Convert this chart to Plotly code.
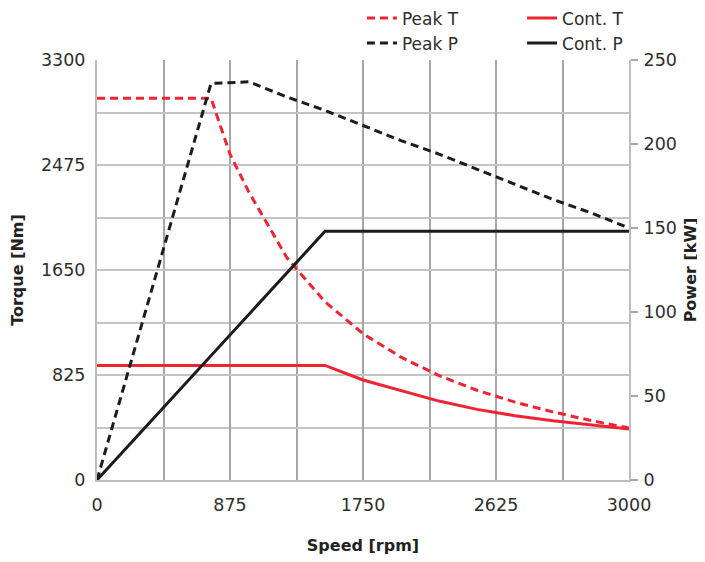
import plotly.graph_objects as go

# Data
rpm_peak_t = [0, 750, 875, 1000, 1250, 1500, 1750, 2000, 2250, 2500, 2750, 3000, 3250, 3500]
peak_t = [3000, 3000, 2560, 2260, 1745, 1400, 1150, 965, 820, 705, 612, 535, 467, 408]

rpm_peak_p = [0, 750, 1000, 1250, 1500, 1750, 2000, 2250, 2500, 2750, 3000, 3250, 3500]
peak_p = [0, 236, 237, 228, 220, 211, 202, 194, 185, 176, 167, 159, 150]

rpm_cont_t = [0, 1500, 1750, 2000, 2250, 2500, 2750, 3000, 3250, 3500]
cont_t = [900, 900, 786, 700, 620, 555, 505, 465, 430, 400]

rpm_cont_p = [0, 1500, 3500]
cont_p = [0, 148, 148]

x_tickvals = [0, 875, 1750, 2625, 3500]
x_ticktext = ["0", "875", "1750", "2625", "3000"]
y_tickvals = [0, 825, 1650, 2475, 3300]
y2_tickvals = [0, 50, 100, 150, 200, 250]

RED = "#ee2433"
BLACK = "#1c1c1c"
FONT = "DejaVu Sans"
TXT = "#2e2e2e"

fig = go.Figure()
fig.add_trace(go.Scatter(x=rpm_peak_t, y=peak_t, name="Peak T", mode="lines",
                         line=dict(color=RED, width=3, dash="8px,5px"), legend="legend"))
fig.add_trace(go.Scatter(x=rpm_peak_p, y=peak_p, name="Peak P", mode="lines", yaxis="y2",
                         line=dict(color=BLACK, width=3, dash="8px,5px"), legend="legend"))
fig.add_trace(go.Scatter(x=rpm_cont_t, y=cont_t, name="Cont. T", mode="lines",
                         line=dict(color=RED, width=3), legend="legend2"))
fig.add_trace(go.Scatter(x=rpm_cont_p, y=cont_p, name="Cont. P", mode="lines", yaxis="y2",
                         line=dict(color=BLACK, width=3), legend="legend2"))

title_font = dict(family="DejaVu Sans", size=16, color="#222222", weight="bold")

fig.update_layout(
    width=697, height=554,
    margin=dict(l=89, r=76, t=52, b=82, autoexpand=False),
    plot_bgcolor="white", paper_bgcolor="white",
    font=dict(family=FONT, size=17.5, color=TXT),
    xaxis=dict(
        range=[0, 3500], tickvals=x_tickvals, ticktext=x_ticktext,
        showgrid=True, gridcolor="#a6a6a6", gridwidth=1.5,
        minor=dict(dtick=437.5, tick0=0, showgrid=True, gridcolor="#a6a6a6", gridwidth=1.5),
        showline=True, linecolor="#bdbdbd", linewidth=2,
        zeroline=False, ticks="", ticklabelstandoff=8,
        title=dict(text="Speed [rpm]", font=title_font, standoff=26),
    ),
    yaxis=dict(
        range=[0, 3300], tickvals=y_tickvals,
        showgrid=True, gridcolor="#c4c4c4", gridwidth=2,
        minor=dict(dtick=412.5, tick0=0, showgrid=True, gridcolor="#c4c4c4", gridwidth=2),
        showline=True, linecolor="#bdbdbd", linewidth=2,
        zeroline=False, ticks="", ticklabelstandoff=6,
        title=dict(text="Torque [Nm]", font=title_font, standoff=14),
    ),
    yaxis2=dict(
        range=[0, 250], tickvals=y2_tickvals, overlaying="y", side="right",
        showgrid=False, zeroline=False,
        showline=True, linecolor="#bdbdbd", linewidth=2,
        ticks="outside", ticklen=7, tickwidth=2, tickcolor="#a6a6a6",
        ticklabelstandoff=2,
        title=dict(text="Power [kW]", font=title_font, standoff=9),
    ),
    legend=dict(x=0.498, xanchor="left", y=1.142, yanchor="top",
                bgcolor="rgba(0,0,0,0)", font=dict(size=17, color=TXT),
                tracegroupgap=0),
    legend2=dict(x=0.799, xanchor="left", y=1.142, yanchor="top",
                 bgcolor="rgba(0,0,0,0)", font=dict(size=17, color=TXT),
                 tracegroupgap=0),
    showlegend=True,
)

fig.write_html("out.html")
